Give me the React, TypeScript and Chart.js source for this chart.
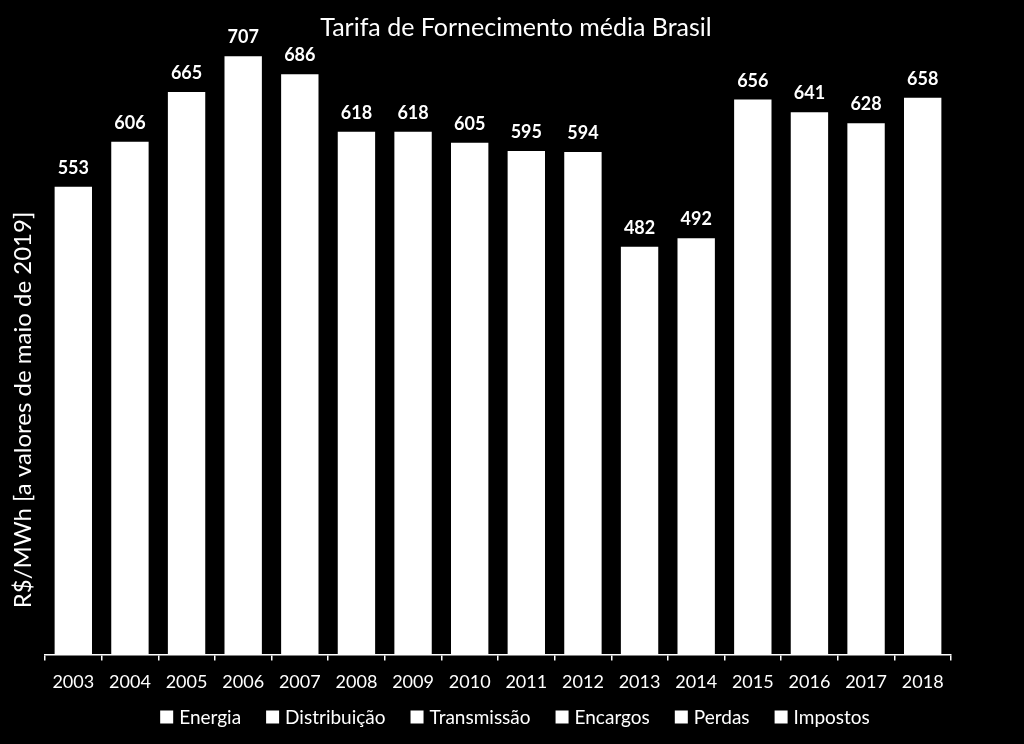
import React, { useEffect, useRef } from "react";
import { Chart, registerables } from "chart.js";

Chart.register(...registerables);

const years = ["2003","2004","2005","2006","2007","2008","2009","2010","2011","2012","2013","2014","2015","2016","2017","2018"];
const totals = [553, 606, 665, 707, 686, 618, 618, 605, 595, 594, 482, 492, 656, 641, 628, 658];
const legendNames = ["Energia", "Distribuição", "Transmissão", "Encargos", "Perdas", "Impostos"];
const chartTitle = "Tarifa de Fornecimento média Brasil";
const yTitle = "R$/MWh [a valores de maio de 2019]";

const FONT = "Lato";

const overlay = {
  id: "overlay",
  afterDatasetsDraw(chart: any) {
    const ctx = chart.ctx;
    ctx.save();
    ctx.fillStyle = "#ffffff";
    // data labels
    const meta = chart.getDatasetMeta(0);
    ctx.font = `bold 18px ${FONT}`;
    ctx.textAlign = "center";
    ctx.textBaseline = "alphabetic";
    meta.data.forEach((bar: any, i: number) => {
      ctx.fillText(String(totals[i]), bar.x, bar.y - 13);
    });
    // title
    ctx.font = `25px ${FONT}`;
    ctx.textBaseline = "middle";
    ctx.fillText(chartTitle, 516, 28);
    // legend
    ctx.font = `19px ${FONT}`;
    const box = 13, gapText = 6, gapItem = 25;
    const widths = legendNames.map((n) => ctx.measureText(n).width);
    const total = widths.reduce((a, w) => a + box + gapText + w, 0) + gapItem * (legendNames.length - 1);
    let x = 515 - total / 2;
    const cy = 717;
    ctx.textAlign = "left";
    legendNames.forEach((n, i) => {
      ctx.fillRect(x, cy - box / 2, box, box);
      ctx.fillText(n, x + box + gapText, cy + 1);
      x += box + gapText + widths[i] + gapItem;
    });
    // y title
    ctx.textAlign = "center";
    ctx.translate(23, 410);
    ctx.rotate(-Math.PI / 2);
    ctx.font = `24px ${FONT}`;
    ctx.fillText(yTitle, 0, 0);
    ctx.restore();
  },
};

export default function App() {
  const ref = useRef<HTMLCanvasElement>(null);
  useEffect(() => {
    document.body.style.margin = "0";
    document.body.style.background = "#000";
    const chart = new Chart(ref.current!, {
      type: "bar",
      data: {
        labels: years,
        datasets: [
          {
            label: legendNames[0],
            data: totals,
            backgroundColor: "#ffffff",
            borderWidth: 0,
            categoryPercentage: 1,
            barPercentage: 0.66,
          },
        ],
      },
      options: {
        animation: false,
        responsive: false,
        maintainAspectRatio: false,
        layout: { padding: { left: 45, right: 73, top: 20, bottom: 40 } },
        plugins: {
          title: { display: false },
          tooltip: { enabled: false },
          legend: { display: false },
        },
        scales: {
          x: {
            offset: true,
            grid: {
              display: true,
              offset: true,
              drawOnChartArea: false,
              drawTicks: true,
              tickLength: 6,
              color: "#ffffff",
              lineWidth: 1.5,
            },
            border: { display: true, color: "#ffffff", width: 1.5 },
            ticks: {
              color: "#ffffff",
              font: { family: FONT, size: 18 },
              padding: 11,
              maxRotation: 0,
              autoSkip: false,
            },
          },
          y: {
            display: false,
            min: 0,
            max: 750,
          },
        },
      },
      plugins: [overlay],
    });
    return () => chart.destroy();
  }, []);
  return (
    <div style={{ position: "absolute", left: 0, top: 0, width: 1024, height: 744, background: "#000" }}>
      <canvas ref={ref} width={1024} height={744} style={{ width: 1024, height: 744 }} />
    </div>
  );
}
